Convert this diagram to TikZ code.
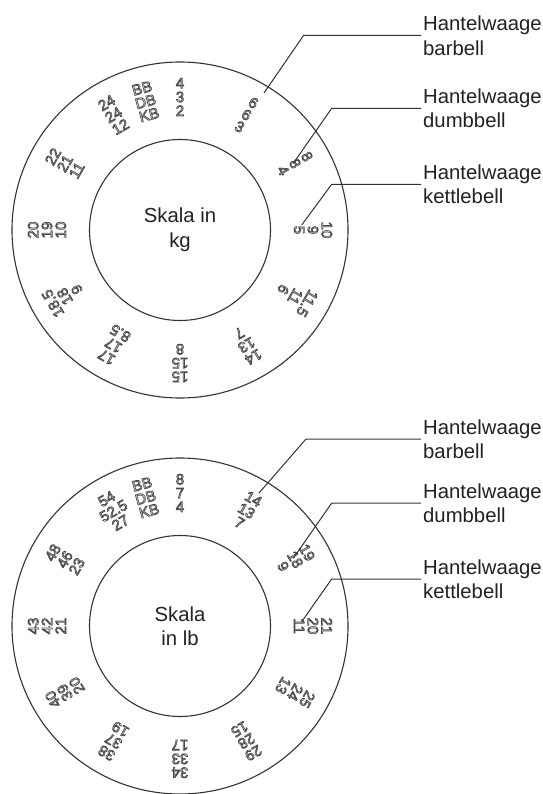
\documentclass[tikz,border=0pt]{standalone}
\usepackage{fontspec}
\setmainfont{Liberation Sans}
\usetikzlibrary{calc}
\definecolor{ringcol}{HTML}{333333}
\definecolor{numcol}{HTML}{4A4A4A}
\definecolor{labcol}{HTML}{222222}
\newcommand{\outlineon}{\special{pdf:literal direct 1 Tr 0.7 w}}
\newcommand{\outlineoff}{\special{pdf:literal direct 0 Tr}}
\newcommand{\dgrp}[6]{\node[numtxt, rotate=#3-90] (#1) at ($(#2)+(#3:133pt)$) {\outlineon#4\\#5\\#6\outlineoff};}
\begin{document}
\begin{tikzpicture}[x=1pt,y=-1pt,
  numtxt/.style={text=numcol, font=\fontsize{15}{13.8}\selectfont, align=center, inner sep=0pt},
  lab/.style={font=\fontsize{20.3}{24.5}\selectfont, text=labcol, align=left, anchor=west, inner sep=0pt},
  ctr/.style={font=\fontsize{20.3}{24.5}\selectfont, text=labcol, align=center, inner sep=0pt},
  ringline/.style={draw=ringcol, line width=1.1pt},
  leader/.style={draw=ringcol, line width=1pt}]
\useasboundingbox (0,0) rectangle (542,794);
\fill[white] (0,0) rectangle (542,794);

% ---------- kg dial ----------
\coordinate (ck) at (180,230);
\draw[ringline] (ck) circle[radius=168pt];
\draw[ringline] (ck) circle[radius=90.5pt];
\node[ctr] (tk) at (ck) {Skala in\\kg};
\dgrp{k090}{ck}{90}{4}{3}{2}
\dgrp{k105}{ck}{105}{BB}{DB}{KB}
\dgrp{k120}{ck}{120}{24}{24}{12}
\dgrp{k150}{ck}{150}{22}{21}{11}
\dgrp{k180}{ck}{180}{20}{19}{10}
\dgrp{k210}{ck}{210}{18.5}{18}{9}
\dgrp{k240}{ck}{240}{17}{17}{8.5}
\dgrp{k270}{ck}{270}{15}{15}{8}
\dgrp{k300}{ck}{300}{14}{13}{7}
\dgrp{k330}{ck}{330}{11.5}{11}{6}
\dgrp{k000}{ck}{0}{10}{9}{5}
\dgrp{k030}{ck}{30}{8}{8}{4}
\dgrp{k060}{ck}{60}{6}{6}{3}

\node[lab] (kbb) at (423,35.5) {Hantelwaage\\barbell};
\node[lab] (kdb) at (423,108.3) {Hantelwaage\\dumbbell};
\node[lab] (kkb) at (423,184.3) {Hantelwaage\\kettlebell};
\coordinate (kbbc) at (303.5,35.5);
\coordinate (kbbe) at (264,93);
\coordinate (kdbc) at (331.7,108.3);
\coordinate (kdbe) at (293.3,163.3);
\coordinate (kkbc) at (331.7,184.3);
\coordinate (kkbe) at (301.7,225);
\draw[leader] ([xshift=-2pt]kbb.west) -- (kbbc) -- (kbbe);
\draw[leader] ([xshift=-2pt]kdb.west) -- (kdbc) -- (kdbe);
\draw[leader] ([xshift=-2pt]kkb.west) -- (kkbc) -- (kkbe);

% ---------- lb dial ----------
\coordinate (cl) at (180,626);
\draw[ringline] (cl) circle[radius=168pt];
\draw[ringline] (cl) circle[radius=90.5pt];
\node[ctr] (tl) at (cl) {Skala\\in lb};
\dgrp{l090}{cl}{90}{8}{7}{4}
\dgrp{l105}{cl}{105}{BB}{DB}{KB}
\dgrp{l120}{cl}{120}{54}{52.5}{27}
\dgrp{l150}{cl}{150}{48}{46}{23}
\dgrp{l180}{cl}{180}{43}{42}{21}
\dgrp{l210}{cl}{210}{40}{39}{20}
\dgrp{l240}{cl}{240}{38}{37}{19}
\dgrp{l270}{cl}{270}{34}{33}{17}
\dgrp{l300}{cl}{300}{29}{28}{15}
\dgrp{l330}{cl}{330}{25}{24}{13}
\dgrp{l000}{cl}{0}{21}{20}{11}
\dgrp{l030}{cl}{30}{19}{18}{9}
\dgrp{l060}{cl}{60}{14}{13}{7}

\node[lab] (lbb) at (423,439) {Hantelwaage\\barbell};
\node[lab] (ldb) at (423,503) {Hantelwaage\\dumbbell};
\node[lab] (lkb) at (423,579) {Hantelwaage\\kettlebell};
\coordinate (lbbc) at (306,439);
\coordinate (lbbe) at (259,493);
\coordinate (ldbc) at (331.7,503);
\coordinate (ldbe) at (293.3,558.3);
\coordinate (lkbc) at (331.7,579);
\coordinate (lkbe) at (301.7,621.7);
\draw[leader] ([xshift=-2pt]lbb.west) -- (lbbc) -- (lbbe);
\draw[leader] ([xshift=-2pt]ldb.west) -- (ldbc) -- (ldbe);
\draw[leader] ([xshift=-2pt]lkb.west) -- (lkbc) -- (lkbe);
\end{tikzpicture}
\end{document}
